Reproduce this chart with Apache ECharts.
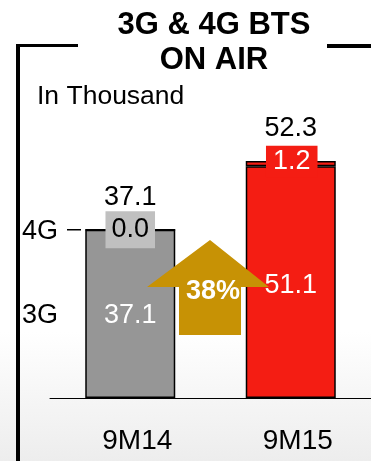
<!DOCTYPE html>
<html>
<head>
<meta charset="utf-8">
<script src="https://cdn.jsdelivr.net/npm/echarts@6/dist/echarts.min.js"></script>
<style>
  html, body { margin: 0; padding: 0; }
  body { background: linear-gradient(to bottom, #ffffff 0%, #ffffff 72%, #ededed 100%); }
  #chart { width: 371px; height: 461px; }
</style>
</head>
<body>
<div id="chart"></div>
<script>
// ---- data ----
const categories = ['9M14', '9M15'];
const bts3G = [37.1, 51.1];
const bts4G = [0.0, 1.2];
const rowLabels = ['4G', '3G'];
const titleLines = ['3G & 4G BTS', 'ON AIR'];
const unitText = 'In Thousand';

const totals = bts3G.map((v, i) => +(v + bts4G[i]).toFixed(1));
const growth3G = Math.round((bts3G[1] / bts3G[0] - 1) * 100);

const FONT = "'Liberation Sans', Arial, sans-serif";
const GRAY = '#969696';
const RED = '#f41d13';
const GOLD = '#c79205';

const chart = echarts.init(document.getElementById('chart'), null, { renderer: 'canvas' });

const option = {
  backgroundColor: 'transparent',
  animation: false,
  grid: { left: 50, right: 0, top: 126, bottom: 63 },
  xAxis: {
    type: 'category',
    data: categories,
    axisLine: { show: true, lineStyle: { color: '#000', width: 1 } },
    axisTick: { show: false },
    axisLabel: { color: '#000', fontSize: 28, fontFamily: FONT, margin: 29, padding: [0, 0, 0, 14] }
  },
  yAxis: { type: 'value', min: 0, max: 60, show: false },
  series: [
    {
      name: '3G', type: 'bar', stack: 'bts', barWidth: 90,
      data: bts3G.map((v, i) => ({
        value: v,
        itemStyle: { color: i === 0 ? GRAY : RED },
        label: { offset: i === 0 ? [0, 2] : [0, 3] }
      })),
      itemStyle: { borderColor: '#000', borderWidth: 1.5 },
      label: {
        show: true, position: 'inside', color: '#fff', fontSize: 27, fontFamily: FONT,
        formatter: p => p.value.toFixed(1)
      }
    },
    {
      name: '4G', type: 'bar', stack: 'bts', barWidth: 90,
      data: bts4G.map((v, i) => ({
        value: v,
        itemStyle: { color: i === 0 ? GRAY : RED },
        label: i === 0
          ? { color: '#000', backgroundColor: '#c0c0c0', padding: [6, 6, 4, 6] }
          : { color: '#fff', backgroundColor: RED, padding: [3, 7, 2, 7], offset: [1, -2] }
      })),
      itemStyle: { borderColor: '#000', borderWidth: 1.5 },
      label: {
        show: true, position: 'inside', fontSize: 27, fontFamily: FONT,
        formatter: p => p.value.toFixed(1)
      }
    },
    {
      name: 'total', type: 'bar', stack: 'bts', barWidth: 90,
      data: totals.map(() => 0),
      itemStyle: { color: 'transparent', borderWidth: 0 },
      label: {
        show: true, position: 'top', distance: 19, color: '#000', fontSize: 27, fontFamily: FONT,
        formatter: p => totals[p.dataIndex].toFixed(1)
      }
    }
  ],
  graphic: [
    // frame
    { id: 'fv', type: 'rect', shape: { x: 16, y: 44, width: 4, height: 417 }, style: { fill: '#000' }, silent: true },
    { id: 'fl', type: 'rect', shape: { x: 16, y: 44, width: 62, height: 3 }, style: { fill: '#000' }, silent: true },
    { id: 'fr', type: 'rect', shape: { x: 327, y: 44, width: 44, height: 4 }, style: { fill: '#000' }, silent: true },
    // title
    { id: 't1', type: 'text', x: 214, y: 25, style: { text: titleLines[0], fill: '#000', font: 'bold 31px ' + FONT, textAlign: 'center', textVerticalAlign: 'middle' } },
    { id: 't2', type: 'text', x: 214, y: 60, style: { text: titleLines[1], fill: '#000', font: 'bold 31px ' + FONT, textAlign: 'center', textVerticalAlign: 'middle' } },
    { id: 'unit', type: 'text', x: 37, y: 97, style: { text: unitText, fill: '#000', font: '26.5px ' + FONT, textAlign: 'left', textVerticalAlign: 'middle' } },
    // row labels
    { id: 'r4', type: 'text', x: 22, y: 232, style: { text: rowLabels[0], fill: '#000', font: '27px ' + FONT, textAlign: 'left', textVerticalAlign: 'middle' } },
    { id: 'dash', type: 'rect', shape: { x: 67, y: 229, width: 14, height: 1.5 }, style: { fill: '#000' } },
    { id: 'r3', type: 'text', x: 22, y: 316, style: { text: rowLabels[1], fill: '#000', font: '27px ' + FONT, textAlign: 'left', textVerticalAlign: 'middle' } }
  ]
};

chart.setOption(option);

// growth arrow placed between the two bars
const p0 = chart.convertToPixel({ gridIndex: 0 }, [0, 0]);
const p1 = chart.convertToPixel({ gridIndex: 0 }, [1, 0]);
const cx = (p0[0] + p1[0]) / 2 - 0.5;
chart.setOption({
  graphic: [
    {
      id: 'arrow', type: 'polygon', z: 10,
      shape: { points: [
        [cx, 240], [cx + 59, 287], [cx + 31, 287], [cx + 31, 335],
        [cx - 31, 335], [cx - 31, 287], [cx - 63, 287]
      ] },
      style: { fill: GOLD }
    },
    { id: 'growth', type: 'text', z: 11, x: cx + 3, y: 292, style: { text: growth3G + '%', fill: '#fff', font: 'bold 27px ' + FONT, textAlign: 'center', textVerticalAlign: 'middle' } }
  ]
});
</script>
</body>
</html>
